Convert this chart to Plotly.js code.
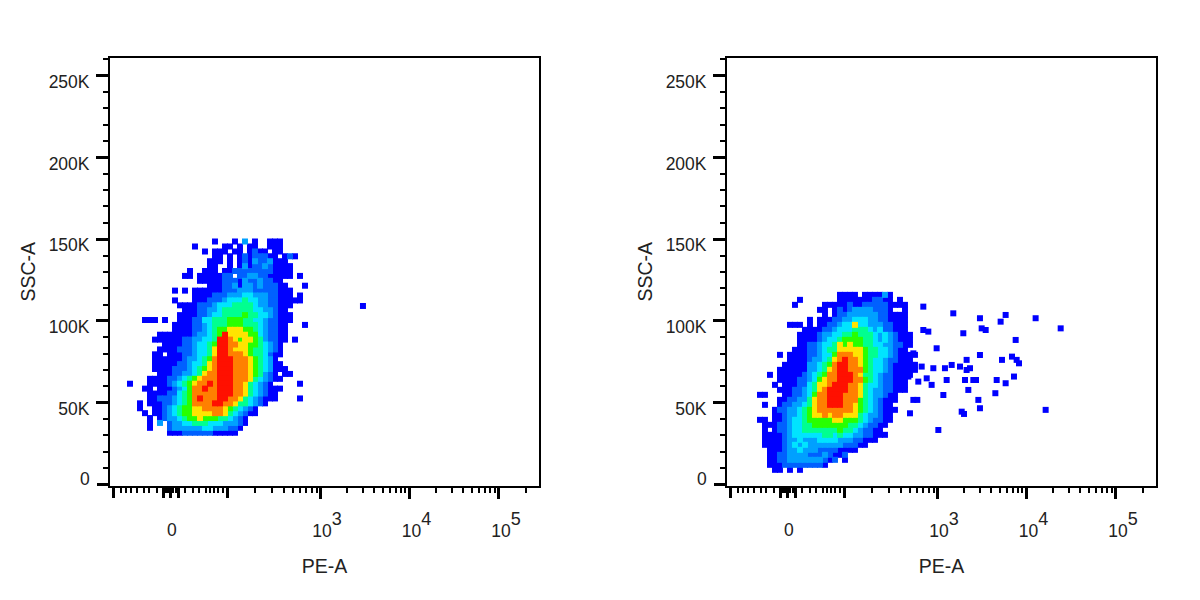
<!DOCTYPE html>
<html><head><meta charset="utf-8">
<script src="https://cdn.plot.ly/plotly-3.0.1.min.js"></script>
<style>html,body{margin:0;padding:0;background:#fff}#c{width:1200px;height:600px}</style>
</head><body><div id="c"></div>
<script>
// Density level per PE-A / SSC-A bin ('.' = no events)
const leftRows = [
".................1...1.3.1..111",
".............1.....11.1.11..111",
"...............1.111.11.1211.11",
".................11.1.12122211.121",
"................111.1.1213223111",
"................11..1.13122321111",
"............1..111.11222222221111",
"...........11.1111122.22332211111.1",
"..............11111222132232211",
"................1112231332322211...1",
".........1.1.11111122233322222111",
".............11112223334433322111.1",
".........1...11122234445443322" + "11111",
"..........1111222344" + "4555543322" + "111",
"...........111223345" + "5555544332" + "11",
"..........1111223445" + "5556554432" + "111",
"...111.1.." + "1112244555" + "6665544322" + "111",
".........1" + "1112234555" + "6665554322" + "11...1",
".........1" + "1112234566" + "7776654322" + "11",
"......1111" + "1112334569" + "7777664322" + "11",
".....11111" + "1223344599" + "8767765322" + "11.1",
".......111" + "1223445699" + "8877665432" + "1",
"......1111" + "2223445799" + "8777655432" + "1",
".....11.11" + "1223445799" + "8887655421" + "1",
".....11111" + "1233456899" + "9888765431",
".....11111" + "2234457899" + "9888765431" + "1",
".....11112" + "2234567899" + "9888765431" + "11",
"......1112" + "2334578899" + "9888765321" + ".11",
"....111122" + "3456788899" + "9888754321" + "1",
"1...111123" + "4567889899" + "988754321.." + "...1",
"...11.1112" + "3468898899" + "9887543211" + "1",
"....111122" + "4568888899" + "9887543211",
"....112223" + "4568988899" + "8875432111" + "....1",
"..1.111223" + "4568888998" + "87554321",
"..1..11234" + "5667788887" + "654321",
"...1.11234" + "5667777887" + "543211",
"....1.1233" + "4566766655" + "4321",
"....1.3.23" + "3445554443" + "3321",
"....1...23" + "3333344333" + "221",
"........11" + "1222222111" + "11"
];
const rightRows = [
"................1111.111131",
"........1.......1111" + "1112211.1",
".......1.." + "...1111121" + "1222221111",
"............11.12123" + "3332221..1",
".............1.12233" + "3333221111",
"..........1.11122334" + "4433221111",
"......111." + "1.11223447" + "4433322111",
".........1" + "1112234445" + "5543422111",
"........11" + "1123344556" + "5554343211" + "1",
"........11" + "1123445666" + "6554343211" + "1",
"........11" + "2234457676" + "6554433221" + "1",
".......111" + "2234557777" + "7655443211",
"....1.1111" + "2234468887" + "7655443211" + "11",
"......1111" + "2334578988" + "7654432211" + "1",
".....11111" + "3345689988" + "7654432111" + "11",
"....111111" + "3345789988" + "8654432111" + "11",
"..1.111112" + "3456889998" + "7554322111" + "1",
"....111122" + "3467889998" + "8654322111",
"...1.11122" + "4577899988" + "7544322111",
"....111223" + "4578999988" + "7543322111",
"11...11223" + "4688999888" + "75433211",
"....112233" + "5788999888" + "65432111",
".1..122334" + "5788999887" + "6543211",
"...1223345" + "6788888887" + "65432111",
"...1123345" + "6778788777" + "5433211",
"11.1123445" + "6666677666" + "5432211",
".111223445" + "5666666655" + "432211",
".1.1223445" + "5555556554" + "32211",
".111123444" + "4445545443" + "322111",
".111123343" + "3344443332" + "2111",
".111123434" + "3333333222" + "11",
"..11123343" + "3322221111",
"..11223333" + "22232112",
"..11223333" + "333212.1",
"..11122222" + "2221",
"...11.1.1."
];
// Isolated events: PE-A scale position, SSC-A in thousands
const leftOutPE = [3.48];
const leftOutSSC = [109.1];
const rightOutPE = [2.847,3.182,3.480,3.767,3.711,4.102,4.382,2.847,2.903,3.294,3.499,3.544,3.879,2.996,2.736,3.480,3.331,3.726,3.838,3.890,3.916,2.829,2.959,3.089,3.164,3.257,3.331,3.369,2.885,2.791,2.940,3.108,3.313,3.406,3.436,3.667,3.767,3.860,3.350,3.071,3.652,3.462,2.736,2.780,3.480,2.698,3.276,3.302,4.214,3.015,2.736,2.680];
const rightOutSSC = [108.7,104.6,101.6,103.6,99.5,101.6,95.4,94.4,93.4,92.4,95.4,94.4,88.3,83.2,80.1,79.1,76.1,76.1,78.1,76.1,74.0,72.0,71.0,71.0,73.0,72.0,69.9,71.0,64.8,62.8,60.8,63.8,63.8,63.8,63.8,63.8,61.8,65.9,57.7,54.6,55.7,51.6,51.6,51.6,46.5,43.4,44.4,43.0,45.5,33.2,73.0,65.9];

const levelColors = ["#0000ff","#0060ff","#00a0ff","#00e4ff","#00ff90","#28ff00","#ffe400","#ff8000","#ff1000"];
const yLabelled = [50,100,150,200,250];
const yLabels = ["50K","100K","150K","200K","250K"];
const yLongPlain = [0];
const yMinor = [10,20,30,40,60,70,80,90,110,120,130,140,160,170,180,190,210,220,230,240,260];
const xLabelled = [3,4,5];
const sup = d => "10<sup><sup><span style='font-size:18px'>"+d+"</span></sup></sup>";
const xLabels = [sup(3),sup(4),sup(5)];
const xLongPlain = [0.695,1.249,1.335,1.417,1.972];
const xMinor = [0.777,0.832,0.888,0.952,1.034,1.093,1.175,1.277,1.307,1.363,1.391,1.492,1.578,1.648,1.726,1.771,1.816,1.864,1.920,
  2.277,2.464,2.598,2.702,2.777,2.844,2.907,2.963,
  3.301,3.477,3.602,3.699,3.778,3.845,3.903,3.954,
  4.301,4.477,4.602,4.699,4.778,4.845,4.903,4.954,5.301];

const sscStep = {left:3.0, right:3.06};
const sscTop = {left:148.5, right:115.9};
const peStart = {left:0.877, right:1.022};
const peStep = 5/89.5;
const xRange = [0.6536,5.447], yRange = [-1.1,261.2];

function cells(rows, pe0, ssc0, dy, oPE, oSSC){
  const pts = [];
  rows.forEach((row,r)=>{
    for(let c=0;c<row.length;c++){
      if(row[c]!=='.') pts.push({x:pe0+c*peStep, y:ssc0-r*dy, v:+row[c]});
    }
  });
  oPE.forEach((p,i)=>pts.push({x:p,y:oSSC[i],v:1}));
  pts.sort((a,b)=>a.v-b.v);
  return pts;
}
const cs = levelColors.map((col,i)=>[i/(levelColors.length-1),col]);
function trace(pts,xa,ya){
  return {type:"scatter",mode:"markers",xaxis:xa,yaxis:ya,hoverinfo:"skip",
    x:pts.map(p=>p.x),y:pts.map(p=>p.y),cliponaxis:true,
    marker:{symbol:"square",size:6,color:pts.map(p=>p.v),colorscale:cs,cmin:1,cmax:9,showscale:false,line:{width:0}}};
}
const txt = {family:"Liberation Sans, Arial, sans-serif",size:17.5,color:"#222"};
const longTick = {ticks:"outside",ticklen:11,tickwidth:3,tickcolor:"#000",showgrid:false,zeroline:false};
function xax(dom,anchor){
  return {...longTick,domain:dom,anchor:anchor,range:xRange,tickmode:"array",tickvals:xLabelled,ticktext:xLabels,
    showline:true,mirror:true,linecolor:"#000",linewidth:2,tickangle:0,tickfont:txt,
    ticklabelstandoff:17,ticklabelshift:7,automargin:false,
    minor:{tickmode:"array",tickvals:xMinor,ticks:"outside",ticklen:5,tickwidth:2,tickcolor:"#000",showgrid:false},
    title:{text:"PE-A",font:{...txt,size:19.5},standoff:19}};
}
function yax(anchor){
  return {...longTick,ticklen:12,domain:[1-486/600,1-57.5/600],anchor:anchor,range:yRange,tickmode:"array",tickvals:yLabelled,ticktext:yLabels,
    showline:true,mirror:true,linecolor:"#000",linewidth:2,tickfont:txt,
    ticklabelstandoff:3,ticklabelshift:6,automargin:false,
    minor:{tickmode:"array",tickvals:yMinor,ticks:"outside",ticklen:5,tickwidth:2,tickcolor:"#000",showgrid:false},
    title:{text:"SSC-A",font:{...txt,size:19.5},standoff:8}};
}
function xOver(dom,base,anchor){
  return {...longTick,domain:dom,anchor:anchor,overlaying:base,range:xRange,tickmode:"array",tickvals:xLongPlain,showticklabels:false,showline:false};
}
function yOver(base,anchor){
  return {...longTick,ticklen:12,domain:[1-486/600,1-57.5/600],anchor:anchor,overlaying:base,side:"left",range:yRange,tickmode:"array",tickvals:yLongPlain,showticklabels:false,showline:false};
}
const blank = (xa,ya)=>({type:"scatter",mode:"markers",x:[],y:[],xaxis:xa,yaxis:ya,hoverinfo:"skip"});
const data = [
  trace(cells(leftRows,peStart.left,sscTop.left,sscStep.left,leftOutPE,leftOutSSC),"x","y"),
  trace(cells(rightRows,peStart.right,sscTop.right,sscStep.right,rightOutPE,rightOutSSC),"x2","y2"),
  blank("x3","y3"),blank("x4","y4")
];
const dL=[110/1200,539/1200], dR=[727/1200,1156/1200];
const zeroY = (xp)=>({xref:"paper",yref:"paper",x:xp/1200,y:1-479/600,text:"0",showarrow:false,font:txt,xanchor:"right",yanchor:"middle"});
const zeroX = (xp)=>({xref:"paper",yref:"paper",x:xp/1200,y:1-530/600,text:"0",showarrow:false,font:txt,xanchor:"center",yanchor:"middle"});
const layout = {width:1200,height:600,margin:{l:0,r:0,t:0,b:0},paper_bgcolor:"#fff",plot_bgcolor:"#fff",showlegend:false,
  xaxis:xax(dL,"y"),yaxis:yax("x"),
  xaxis2:xax(dR,"y2"),yaxis2:yax("x2"),
  xaxis3:xOver(dL,"x","y3"),yaxis3:yOver("y","x3"),
  xaxis4:xOver(dR,"x2","y4"),yaxis4:yOver("y2","x4"),
  annotations:[zeroY(92),zeroY(709),zeroX(172),zeroX(789)]};
Plotly.newPlot("c",data,layout,{staticPlot:true,displayModeBar:false});
</script></body></html>
